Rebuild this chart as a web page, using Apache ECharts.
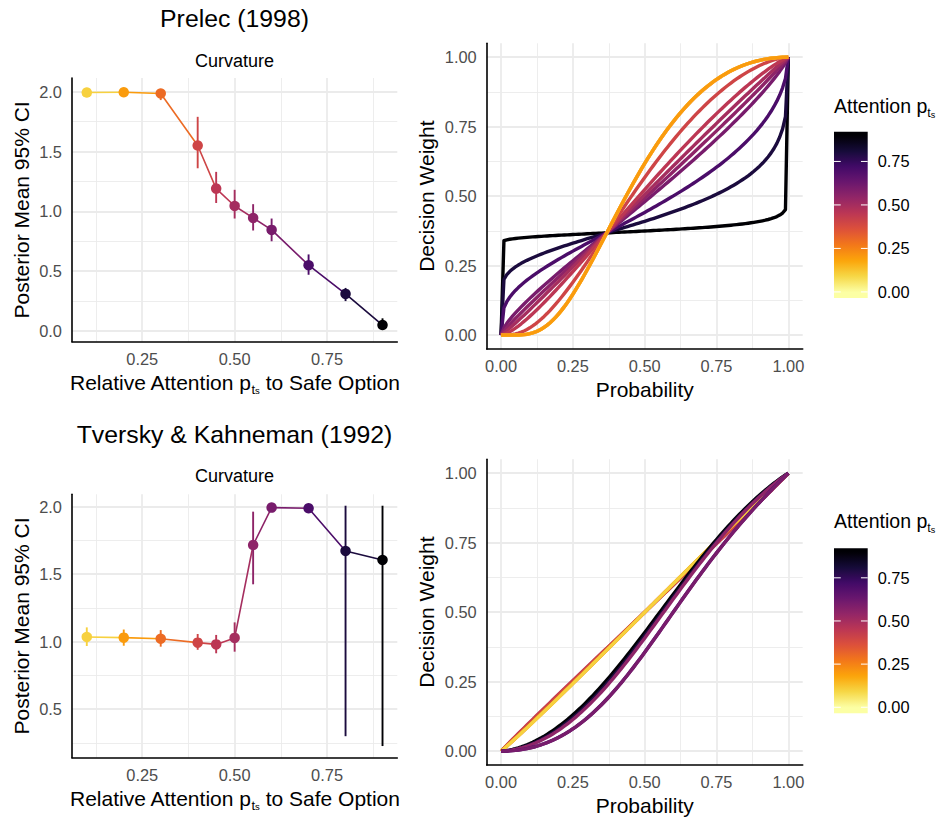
<!DOCTYPE html>
<html>
<head>
<meta charset="utf-8">
<script src="https://cdn.jsdelivr.net/npm/echarts@6/dist/echarts.min.js"></script>
<style>
html,body{margin:0;padding:0;background:#ffffff;}
#chart{width:946px;height:818px;}
</style>
</head>
<body>
<div id="chart"></div>
<script>
// ---------------- data ----------------
const attention = [0.1, 0.2, 0.3, 0.4, 0.45, 0.5, 0.55, 0.6, 0.7, 0.8, 0.9];

// Prelec (1998) curvature: posterior mean and 95% CI
const prelecMean = [1.993, 1.995, 1.985, 1.55, 1.19, 1.045, 0.945, 0.845, 0.55, 0.31, 0.05];
const prelecLow  = [1.985, 1.985, 1.93, 1.36, 1.07, 0.94, 0.84, 0.75, 0.47, 0.25, 0.02];
const prelecHigh = [2.0, 2.0, 2.0, 1.79, 1.33, 1.18, 1.06, 0.94, 0.64, 0.36, 0.106];

// Tversky & Kahneman (1992) curvature: posterior mean and 95% CI
const tkMean = [1.035, 1.03, 1.022, 0.993, 0.98, 1.028, 1.716, 1.993, 1.988, 1.672, 1.605];
const tkLow  = [0.968, 0.97, 0.963, 0.94, 0.914, 0.926, 1.425, 1.985, 1.98, 0.30, 0.227];
const tkHigh = [1.106, 1.09, 1.086, 1.057, 1.05, 1.143, 1.963, 2.0, 2.0, 2.007, 2.007];

// tick labels
const attnTicks = [0.25, 0.5, 0.75];
const attnMinor = [0.125, 0.375, 0.625, 0.875];
const prelecYTicks = [0, 0.5, 1, 1.5, 2];
const tkYTicks = [0.5, 1, 1.5, 2];
const curvMinor = [0.25, 0.75, 1.25, 1.75];
const probTicks = [0, 0.25, 0.5, 0.75, 1];
const probMinor = [0.125, 0.375, 0.625, 0.875];
const legendTicks = [0, 0.25, 0.5, 0.75];

// inferno palette (reversed: high attention = dark)
const inferno = ["#000004","#160B39","#420A68","#6A176E","#932667","#BC3754","#DD513A","#F37819","#FCA50A","#F6D746","#FCFFA4"];
const colourLimits = [0, 0.9];

// probability grid on which the weighting functions are drawn
const probGrid = Array.from({length: 101}, (_, i) => i / 100);

// ---------------- helpers ----------------
function hexToRgb(h){return [parseInt(h.slice(1,3),16),parseInt(h.slice(3,5),16),parseInt(h.slice(5,7),16)];}
function infernoAt(t){
  t = Math.max(0, Math.min(1, t));
  const pos = t * (inferno.length - 1);
  const i = Math.min(inferno.length - 2, Math.floor(pos));
  const f = pos - i;
  const a = hexToRgb(inferno[i]), b = hexToRgb(inferno[i+1]);
  const c = a.map((v, k) => Math.round(v + (b[k] - v) * f));
  return 'rgb(' + c.join(',') + ')';
}
function attnColour(a){
  return infernoAt(1 - (a - colourLimits[0]) / (colourLimits[1] - colourLimits[0]));
}
// probability weighting functions (parameterised by the curvature estimates above)
function prelecW(p, alpha){ return Math.exp(-Math.pow(-Math.log(p), alpha)); }
function tkW(p, g){ const a = Math.pow(p, g), b = Math.pow(1 - p, g); return a / Math.pow(a + b, 1 / g); }

const FONT = "'Liberation Sans', Arial, Helvetica, sans-serif";
const TICK_COL = '#4D4D4D';
const GRID_COL = '#EBEBEB';
const NAME_SIZE = 21;

function richName(prefix, suffix){
  return '{a|' + prefix + '}{t|t}{s|s}' + (suffix ? '{a|' + suffix + '}' : '');
}
const nameRich = {
  a: {fontSize: NAME_SIZE, lineHeight: 26, color: '#000', fontFamily: FONT},
  t: {fontSize: 13, lineHeight: 14.6, color: '#000', fontFamily: FONT, verticalAlign: 'bottom'},
  s: {fontSize: 9.5, lineHeight: 6.2, color: '#000', fontFamily: FONT, verticalAlign: 'bottom'}
};

// ---------------- layout ----------------
const grids = [
  {left: 72, top: 78, width: 325.3, height: 263.7},      // Prelec curvature
  {left: 486.7, top: 43.3, width: 316, height: 305.7},   // Prelec weights
  {left: 72, top: 494.3, width: 325.3, height: 263.4},   // TK curvature
  {left: 486.7, top: 459.3, width: 316, height: 305.7},  // TK weights
  {left: 834, top: 131.7, width: 33.7, height: 166.3},   // colourbar 1
  {left: 834, top: 548.3, width: 33.7, height: 165}      // colourbar 2
];
const legendRange = [-0.035, 0.921];

const xAxes = [], yAxes = [];
function addAxes(gi, xr, xt, xm, xfmt, xname, xgap, yr, yt, ym, yfmt, yname, ygap){
  xAxes.push({
    gridIndex: gi, type: 'value', min: xr[0], max: xr[1], position: 'bottom',
    axisLine: {show: true, onZero: false, lineStyle: {color: '#000', width: 1.6}},
    axisTick: {show: false, customValues: xt},
    axisLabel: {customValues: xt, formatter: v => v.toFixed(xfmt), color: TICK_COL, fontSize: 16.4, fontFamily: FONT, margin: 9},
    splitLine: {show: true, lineStyle: {color: GRID_COL, width: 1.8}},
    name: xname, nameLocation: 'middle', nameGap: xgap,
    nameTextStyle: {fontSize: NAME_SIZE, color: '#000', fontFamily: FONT, rich: nameRich}
  });
  xAxes.push({
    gridIndex: gi, type: 'value', min: xr[0], max: xr[1], position: 'top',
    axisLine: {show: false}, axisLabel: {show: false},
    axisTick: {show: false, customValues: xm},
    splitLine: {show: true, lineStyle: {color: GRID_COL, width: 0.9}}
  });
  yAxes.push({
    gridIndex: gi, type: 'value', min: yr[0], max: yr[1], position: 'left',
    axisLine: {show: true, onZero: false, lineStyle: {color: '#000', width: 1.6}},
    axisTick: {show: false, customValues: yt},
    axisLabel: {customValues: yt, formatter: v => v.toFixed(yfmt), color: TICK_COL, fontSize: 16.4, fontFamily: FONT, margin: 10},
    splitLine: {show: true, lineStyle: {color: GRID_COL, width: 1.8}},
    name: yname, nameLocation: 'middle', nameGap: ygap, nameRotate: 90,
    nameTextStyle: {fontSize: NAME_SIZE, color: '#000', fontFamily: FONT}
  });
  yAxes.push({
    gridIndex: gi, type: 'value', min: yr[0], max: yr[1], position: 'right',
    axisLine: {show: false}, axisLabel: {show: false},
    axisTick: {show: false, customValues: ym},
    splitLine: {show: true, lineStyle: {color: GRID_COL, width: 0.9}}
  });
}
const attnName = richName('Relative Attention p', ' to Safe Option');
addAxes(0, [0.06, 0.94], attnTicks, attnMinor, 2, attnName, 28, [-0.0894, 2.1145], prelecYTicks, curvMinor, 1, 'Posterior Mean 95% CI', 40);
addAxes(1, [-0.05, 1.05], probTicks, probMinor, 2, 'Probability', 30, [-0.05, 1.05], probTicks, probMinor, 2, 'Decision Weight', 50);
addAxes(2, [0.06, 0.94], attnTicks, attnMinor, 2, attnName, 28, [0.1407, 2.0916], tkYTicks, curvMinor, 1, 'Posterior Mean 95% CI', 40);
addAxes(3, [-0.05, 1.05], probTicks, probMinor, 2, 'Probability', 30, [-0.05, 1.05], probTicks, probMinor, 2, 'Decision Weight', 50);
// colourbar axes (indices 8, 9)
[4, 5].forEach(gi => {
  xAxes.push({gridIndex: gi, type: 'value', min: 0, max: 1, show: false});
  yAxes.push({
    gridIndex: gi, type: 'value', min: legendRange[0], max: legendRange[1], position: 'right',
    axisLine: {show: false}, splitLine: {show: false},
    axisTick: {show: false, customValues: legendTicks},
    axisLabel: {customValues: legendTicks, formatter: v => v.toFixed(2), color: '#000', fontSize: 16.4, fontFamily: FONT, margin: 10}
  });
});

// ---------------- series ----------------
const series = [];
function curvatureSeries(gi, mean, low, high){
  const ax = {xAxisIndex: 2 * gi, yAxisIndex: 2 * gi};
  const segs = [];
  for (let i = 0; i < attention.length - 1; i++) segs.push([attention[i], mean[i], attention[i+1], mean[i+1]]);
  series.push(Object.assign({
    type: 'custom', coordinateSystem: 'cartesian2d', silent: true, z: 2,
    data: segs,
    renderItem: (params, api) => {
      const a = api.coord([api.value(0), api.value(1)]);
      const b = api.coord([api.value(2), api.value(3)]);
      return {type: 'line', shape: {x1: a[0], y1: a[1], x2: b[0], y2: b[1]},
              style: {stroke: attnColour(api.value(0)), lineWidth: 1.6, lineCap: 'round'}};
    }
  }, ax));
  series.push(Object.assign({
    type: 'custom', coordinateSystem: 'cartesian2d', silent: true, z: 3,
    data: attention.map((x, i) => [x, low[i], high[i]]),
    renderItem: (params, api) => {
      const a = api.coord([api.value(0), api.value(1)]);
      const b = api.coord([api.value(0), api.value(2)]);
      return {type: 'line', shape: {x1: a[0], y1: a[1], x2: b[0], y2: b[1]},
              style: {stroke: attnColour(api.value(0)), lineWidth: 1.9}};
    }
  }, ax));
  series.push(Object.assign({
    type: 'scatter', silent: true, z: 4, symbol: 'circle', symbolSize: 10.5,
    data: attention.map((x, i) => [x, mean[i]]),
    itemStyle: {color: p => attnColour(p.data[0]), opacity: 1}
  }, ax));
}
curvatureSeries(0, prelecMean, prelecLow, prelecHigh);
curvatureSeries(2, tkMean, tkLow, tkHigh);

function weightSeries(gi, mean, fn){
  // curves drawn in order of increasing curvature
  const order = attention.map((_, i) => i).sort((a, b) => mean[a] - mean[b]);
  order.forEach(i => {
    series.push({
      type: 'line', xAxisIndex: 2 * gi, yAxisIndex: 2 * gi, silent: true,
      showSymbol: false, symbol: 'none', smooth: false, animation: false,
      data: probGrid.map(p => [p, fn(p, mean[i])]),
      lineStyle: {color: attnColour(attention[i]), width: 3.4, cap: 'butt', join: 'round'},
      z: 2
    });
  });
}
weightSeries(1, prelecMean, prelecW);
weightSeries(3, tkMean, tkW);

// colourbars
[0, 1].forEach(k => {
  series.push({
    type: 'custom', coordinateSystem: 'cartesian2d', xAxisIndex: 8 + k, yAxisIndex: 8 + k,
    silent: true, z: 2, data: [[0]],
    renderItem: (params, api) => {
      const tl = api.coord([0, legendRange[1]]);
      const br = api.coord([1, legendRange[0]]);
      const w = br[0] - tl[0], h = br[1] - tl[1];
      const stops = [];
      const n = 60;
      for (let j = 0; j <= n; j++) {
        const off = j / n;
        const v = legendRange[1] - off * (legendRange[1] - legendRange[0]);
        stops.push({offset: off, color: attnColour(v)});
      }
      const children = [{type: 'rect', shape: {x: tl[0], y: tl[1], width: w, height: h},
        style: {fill: new echarts.graphic.LinearGradient(0, 0, 0, 1, stops)}}];
      legendTicks.forEach(t => {
        const y = api.coord([0, t])[1];
        children.push({type: 'line', shape: {x1: tl[0], y1: y, x2: tl[0] + w * 0.2, y2: y}, style: {stroke: '#fff', lineWidth: 1}});
        children.push({type: 'line', shape: {x1: br[0] - w * 0.2, y1: y, x2: br[0], y2: y}, style: {stroke: '#fff', lineWidth: 1}});
      });
      return {type: 'group', children: children};
    }
  });
});

// ---------------- texts ----------------
function txt(text, x, y, size, align){
  return {type: 'text', x: x, y: y, silent: true, style: {text: text, fill: '#000', font: size + 'px ' + FONT, align: align || 'center', verticalAlign: 'middle'}};
}
const legendRich = {
  a: {fontSize: 19.5, lineHeight: 26, color: '#000', fontFamily: FONT},
  t: {fontSize: 12.5, lineHeight: 14.6, color: '#000', fontFamily: FONT, verticalAlign: 'bottom'},
  s: {fontSize: 9, lineHeight: 6.2, color: '#000', fontFamily: FONT, verticalAlign: 'bottom'}
};
function legendTitle(y){
  return {type: 'text', x: 834, y: y, silent: true, style: {text: richName('Attention p', ''), rich: legendRich, align: 'left', verticalAlign: 'middle'}};
}
const graphic = [
  txt('Prelec (1998)', 234.5, 18.5, 24.8),
  txt('Tversky & Kahneman (1992)', 234.5, 434.5, 24.8),
  txt('Curvature', 234.6, 61.2, 18),
  txt('Curvature', 234.6, 476.3, 18),
  legendTitle(106),
  legendTitle(521)
];

const chart = echarts.init(document.getElementById('chart'), null, {renderer: 'svg', width: 946, height: 818});
chart.setOption({
  backgroundColor: '#ffffff',
  animation: false,
  grid: grids,
  xAxis: xAxes,
  yAxis: yAxes,
  series: series,
  graphic: graphic
});
</script>
</body>
</html>
